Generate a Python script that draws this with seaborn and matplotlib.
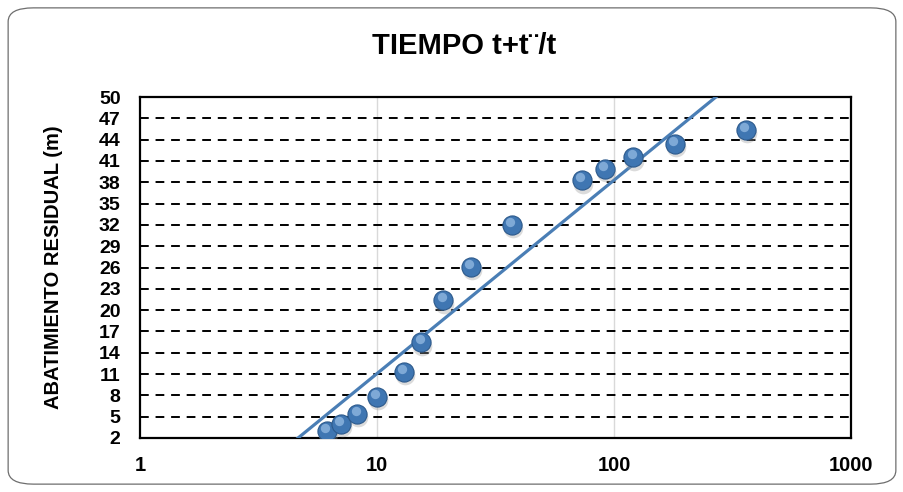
import numpy as np
import pandas as pd
import matplotlib.pyplot as plt
from matplotlib.patches import FancyBboxPatch
import seaborn as sns

# Data
tiempo = [6.15, 7.05, 8.24, 10.0, 13.0, 15.4, 19.05, 24.9, 37.0, 73.1, 91.6, 120.6, 180.9, 360.6]
abatimiento = [3.0, 4.0, 5.4, 7.8, 11.3, 15.5, 21.4, 26.1, 32.0, 38.3, 39.9, 41.5, 43.4, 45.4]
# Trend line: y = pendiente * log10(x) + intercepto
pendiente = 27.23
intercepto = -16.16
y_ticks = list(range(2, 51, 3))
x_ticks = [1, 10, 100, 1000]

sns.set_theme(style="white")
plt.rcParams['font.family'] = ['Liberation Sans', 'DejaVu Sans']
plt.rcParams['text.color'] = 'black'
plt.rcParams['xtick.color'] = 'black'
plt.rcParams['ytick.color'] = 'black'
plt.rcParams['axes.labelcolor'] = 'black'

fig = plt.figure(figsize=(9.04, 4.92), dpi=100)
fig.patches.append(FancyBboxPatch((0.009, 0.016), 0.982, 0.968,
                                  boxstyle="round,pad=0,rounding_size=0.028",
                                  transform=fig.transFigure, facecolor='none',
                                  edgecolor='#6e6e6e', linewidth=0.9, zorder=-1))
ax = fig.add_axes([0.1549, 0.1098, 0.7865, 0.6930])
ax.patch.set_alpha(0)

# light vertical gridlines at decades
for xv in x_ticks[1:-1]:
    ax.axvline(xv, color='#d9d9d9', linewidth=1.0, zorder=0)
# dashed horizontal gridlines
for yv in y_ticks[1:-1]:
    ax.axhline(yv, color='black', linewidth=1.4, linestyle=(0, (4.5, 3.5)), zorder=1)

xs = np.logspace(0, 3, 200)
trend = pd.DataFrame({'x': xs, 'y': pendiente * np.log10(xs) + intercepto})
sns.lineplot(data=trend, x='x', y='y', ax=ax, color='#4a7eb5', linewidth=2.3, zorder=3)

df = pd.DataFrame({'t': tiempo, 's': abatimiento})
# soft shadow, sphere body, highlight
ax.scatter(df['t'] * 1.01, df['s'] - 0.5, s=200, color='#999999', alpha=0.35,
           linewidth=0, zorder=4)
sns.scatterplot(data=df, x='t', y='s', ax=ax, s=190, color='#3f76b2',
                edgecolor='#2d5a8c', linewidth=0.8, zorder=5)
ax.scatter(df['t'] * 0.985, df['s'] + 0.45, s=45, color='#8fb6e0', alpha=0.8,
           linewidth=0, zorder=6)

ax.set_xscale('log')
ax.set_xlim(1, 1000)
ax.set_ylim(2, 50)
ax.set_xticks(x_ticks)
ax.set_xticklabels([str(v) for v in x_ticks], fontsize=14.5, fontweight='bold')
ax.set_yticks(y_ticks)
ax.set_yticklabels([str(v) for v in y_ticks], fontsize=14, fontweight='bold')
ax.minorticks_off()
ax.tick_params(axis='y', length=0, pad=14)
ax.tick_params(axis='x', length=0, pad=13)
for sp in ax.spines.values():
    sp.set_color('black')
    sp.set_linewidth(1.6)
ax.set_xlabel('')
ax.set_ylabel('ABATIMIENTO RESIDUAL (m)', fontsize=14.5, fontweight='bold')
ax.yaxis.set_label_coords(-0.108, 0.5)
fig.text(0.513, 0.906, 'TIEMPO t+t¨/t', ha='center', va='center',
         fontsize=21, fontweight='bold')

fig.savefig('out.png', dpi=100)
